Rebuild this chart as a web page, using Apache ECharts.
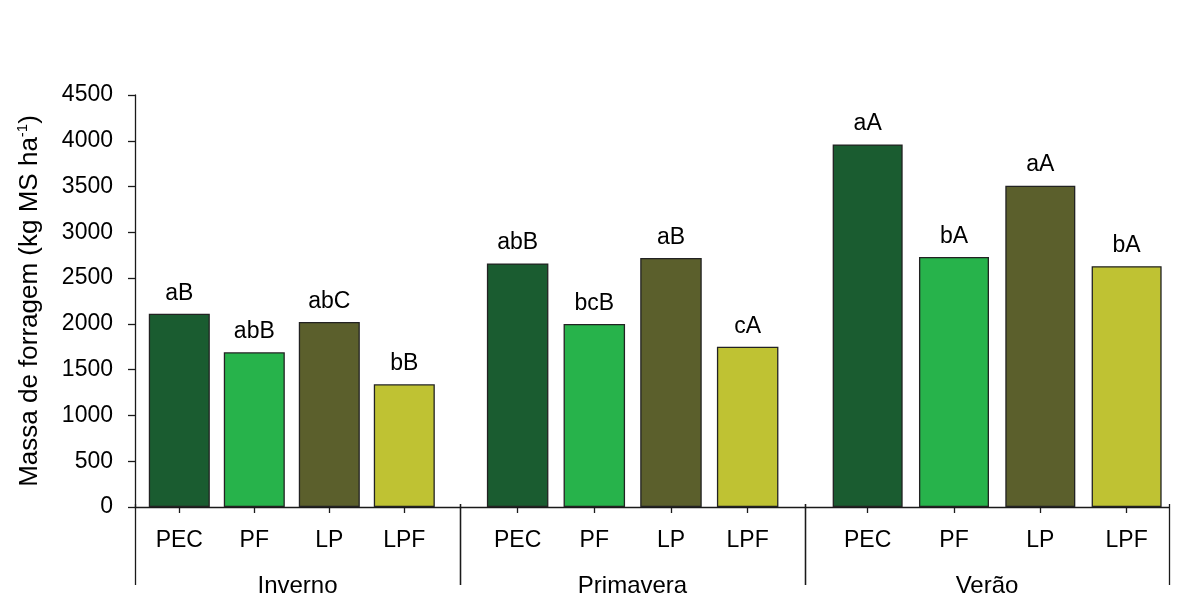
<!DOCTYPE html>
<html>
<head>
<meta charset="utf-8">
<script src="https://cdn.jsdelivr.net/npm/echarts@6/dist/echarts.min.js"></script>
<style>
  html, body { margin: 0; padding: 0; background: #ffffff; }
  #chart { width: 1202px; height: 598px; }
</style>
</head>
<body>
<div id="chart"></div>
<script>
// Forage mass per treatment, by season
const categories = ['PEC', 'PF', 'LP', 'LPF'];
const seasons = ['Inverno', 'Primavera', 'Verão'];
const invernoValues = [2110, 1690, 2020, 1340];
const primaveraValues = [2660, 2000, 2720, 1750];
const veraoValues = [3960, 2730, 3510, 2630];
const invernoLetters = ['aB', 'abB', 'abC', 'bB'];
const primaveraLetters = ['abB', 'bcB', 'aB', 'cA'];
const veraoLetters = ['aA', 'bA', 'aA', 'bA'];
const yTicks = [0, 500, 1000, 1500, 2000, 2500, 3000, 3500, 4000, 4500];

const treatmentColors = ['#1a5c30', '#27b34b', '#5b5f2c', '#bfc233'];
const FONT = 'Liberation Sans, Arial, sans-serif';
const INK = '#1a1a1a';

// plot frame (pixels)
const TOP = 95, BOTTOM = 91, AXIS_LEFT = 135, AXIS_RIGHT = 1169;
// each season block: outer span (separators) and inner band holding the bars
const blocks = [
  { outerLeft: 135, outerWidth: 325, innerLeft: 141.8, innerWidth: 300, barWidth: 61 },
  { outerLeft: 460, outerWidth: 345, innerLeft: 479.3, innerWidth: 306.7, barWidth: 61.5 },
  { outerLeft: 805, outerWidth: 364, innerLeft: 824.5, innerWidth: 345.3, barWidth: 70 }
];
const seasonValues = [invernoValues, primaveraValues, veraoValues];
const seasonLetters = [invernoLetters, primaveraLetters, veraoLetters];

const grids = [], xAxes = [], yAxes = [], series = [];

// main frame: y axis and the horizontal baseline
grids.push({ left: AXIS_LEFT, top: TOP, width: AXIS_RIGHT - AXIS_LEFT, bottom: BOTTOM });
xAxes.push({
  gridIndex: 0, type: 'value', min: 0, max: 1,
  axisLine: { show: true, lineStyle: { color: INK, width: 1.3 } },
  axisTick: { show: false }, axisLabel: { show: false }, splitLine: { show: false }
});
yAxes.push({
  gridIndex: 0, type: 'value', min: yTicks[0], max: yTicks[yTicks.length - 1], interval: 500,
  axisLine: { show: true, lineStyle: { color: INK, width: 1.3 } },
  axisTick: { show: true, length: 7, lineStyle: { color: INK, width: 1.3 } },
  axisLabel: {
    margin: 22, color: '#000', fontFamily: FONT, fontSize: 23,
    formatter: v => String(v)
  },
  splitLine: { show: false },
  name: '{t|Massa de forragem (kg MS ha}{s|-1}{t|)}',
  nameLocation: 'middle', nameGap: 91, nameRotate: 90,
  nameTextStyle: {
    rich: {
      t: { fontFamily: FONT, fontSize: 26, color: '#000' },
      s: { fontFamily: FONT, fontSize: 15, color: '#000', verticalAlign: 'top', padding: [0, 0, 14, 0] }
    }
  }
});
series.push({ type: 'bar', xAxisIndex: 0, yAxisIndex: 0, data: [], silent: true });

blocks.forEach((b, i) => {
  // bar band for this season
  const gBar = grids.length;
  grids.push({ left: b.innerLeft, width: b.innerWidth, top: TOP, bottom: BOTTOM });
  xAxes.push({
    gridIndex: gBar, type: 'category', data: categories,
    axisLine: { show: false },
    axisTick: { show: true, alignWithLabel: true, length: 6, lineStyle: { color: INK, width: 1.3 } },
    axisLabel: { margin: 22, color: '#000', fontFamily: FONT, fontSize: 23 }
  });
  yAxes.push({ gridIndex: gBar, type: 'value', min: 0, max: 4500, show: false });
  series.push({
    type: 'bar', xAxisIndex: gBar, yAxisIndex: gBar,
    barWidth: b.barWidth,
    data: seasonValues[i].map((v, k) => ({
      value: v,
      itemStyle: { color: treatmentColors[k], borderColor: '#222', borderWidth: 1.3 },
      label: { formatter: seasonLetters[i][k] }
    })),
    label: { show: true, position: 'top', distance: 9, color: '#000', fontFamily: FONT, fontSize: 23 }
  });

  // season span: long separator ticks and season name
  const gSpan = grids.length;
  grids.push({ left: b.outerLeft, width: b.outerWidth, top: TOP, bottom: BOTTOM });
  xAxes.push({
    gridIndex: gSpan, type: 'category', data: [seasons[i]], boundaryGap: true,
    axisLine: { show: false },
    axisTick: { show: true, alignWithLabel: false, length: 81, lineStyle: { color: INK, width: 1.3 } },
    axisLabel: { margin: 70, color: '#000', fontFamily: FONT, fontSize: 24 }
  });
  yAxes.push({ gridIndex: gSpan, type: 'value', min: 0, max: 4500, show: false });
});

const chart = echarts.init(document.getElementById('chart'), null, { renderer: 'canvas' });
chart.setOption({
  backgroundColor: '#ffffff',
  animation: false,
  grid: grids,
  xAxis: xAxes,
  yAxis: yAxes,
  series: series
});
</script>
</body>
</html>
